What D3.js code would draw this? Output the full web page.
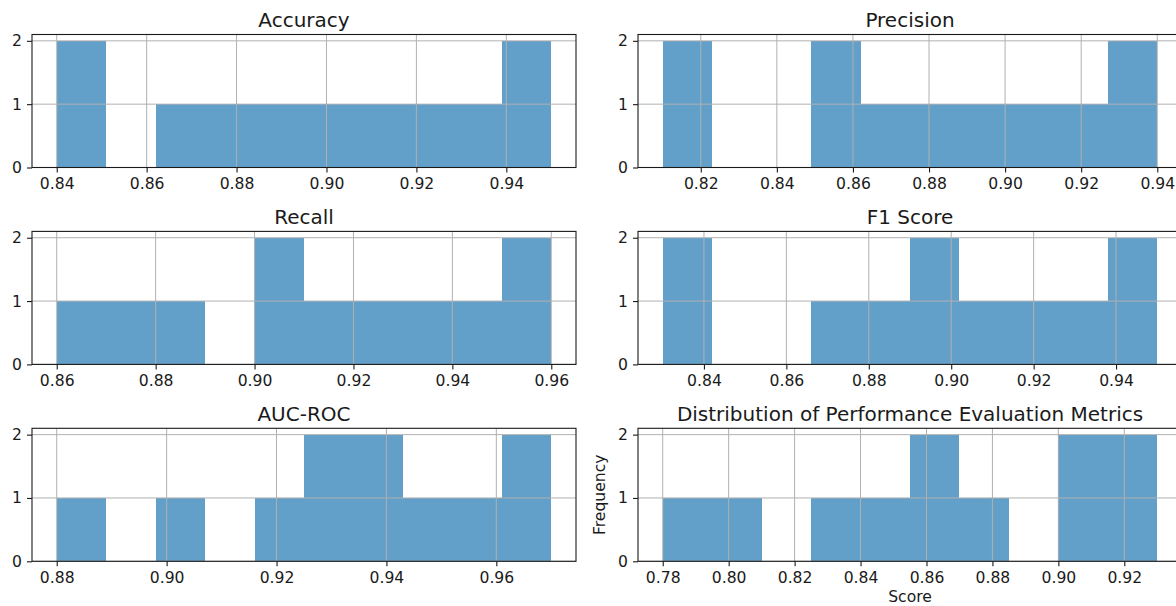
<!DOCTYPE html>
<meta charset="utf-8">
<style>
  body { margin: 0; background: #fff; }
  svg { display: block; overflow: hidden; }
  text { font-family: "DejaVu Sans", sans-serif; fill: #1a1a1a; }
  .tick text { font-size: 15.6px; }
  .tick line { stroke: #1a1a1a; stroke-width: 1.1px; }
  .grid line { stroke: #b0b0b0; stroke-width: 1px; }
  .title { font-size: 20px; text-anchor: middle; }
  .axis-label { font-size: 15.6px; text-anchor: middle; }
</style>
<body>
<script src="https://d3js.org/d3.v7.min.js"></script>
<script>

// panel titles, in subplot order (left to right, top to bottom)
var titles = ["Accuracy", "Precision", "Recall", "F1 Score", "AUC-ROC",
              "Distribution of Performance Evaluation Metrics"];

// lowest and highest score of each metric (10 equal bins in between)
var binLow  = [0.84, 0.81, 0.86, 0.83, 0.88, 0.78];
var binHigh = [0.95, 0.94, 0.96, 0.95, 0.97, 0.93];

// histogram counts, 10 bins per metric
var accuracyCounts  = [2, 0, 1, 1, 1, 1, 1, 1, 1, 2];
var precisionCounts = [2, 0, 0, 2, 1, 1, 1, 1, 1, 2];
var recallCounts    = [1, 1, 1, 0, 2, 1, 1, 1, 1, 2];
var f1Counts        = [2, 0, 0, 1, 1, 2, 1, 1, 1, 2];
var aucCounts       = [1, 0, 1, 0, 1, 2, 2, 1, 1, 2];
var lastCounts      = [1, 1, 0, 1, 1, 2, 1, 0, 2, 2];
var counts = [accuracyCounts, precisionCounts, recallCounts, f1Counts, aucCounts, lastCounts];

// x tick labels per panel
var xTicks = [
  [0.84, 0.86, 0.88, 0.90, 0.92, 0.94],
  [0.82, 0.84, 0.86, 0.88, 0.90, 0.92, 0.94],
  [0.86, 0.88, 0.90, 0.92, 0.94, 0.96],
  [0.84, 0.86, 0.88, 0.90, 0.92, 0.94],
  [0.88, 0.90, 0.92, 0.94, 0.96],
  [0.78, 0.80, 0.82, 0.84, 0.86, 0.88, 0.90, 0.92]
];
var yTicks = [0, 1, 2];

var W = 1176, H = 606;
var colLeft = [32, 638];
var rowTop = [34.5, 231.4, 428.3];
var axW = 544, axH = 133;

var svg = d3.select("body").append("svg")
  .attr("width", W)
  .attr("height", H);

titles.forEach(function(title, i) {
  var col = i % 2, row = Math.floor(i / 2);
  var lo = binLow[i], hi = binHigh[i];
  var pad = (hi - lo) * 0.05;
  var nb = counts[i].length;
  var step = (hi - lo) / nb;

  var bins = counts[i].map(function(c, k) {
    return { x0: lo + k * step, x1: lo + (k + 1) * step, n: c };
  });

  var x = d3.scaleLinear().domain([lo - pad, hi + pad]).range([0, axW]);
  var y = d3.scaleLinear().domain([0, 2.1]).range([axH, 0]);

  var g = svg.append("g")
    .attr("transform", "translate(" + colLeft[col] + "," + rowTop[row] + ")");

  g.selectAll(".bar")
    .data(bins.filter(function(b) { return b.n > 0; }))
    .enter().append("rect")
      .attr("class", "bar")
      .attr("x", function(d) { return x(d.x0); })
      .attr("width", function(d) { return x(d.x1) - x(d.x0); })
      .attr("y", function(d) { return y(d.n); })
      .attr("height", function(d) { return y(0) - y(d.n); })
      .attr("fill", "#1f77b4")
      .attr("fill-opacity", 0.7)
      .attr("shape-rendering", "crispEdges");

  // grid goes above the bars, like matplotlib's default
  var grid = g.append("g").attr("class", "grid");
  grid.selectAll(".vg")
    .data(xTicks[i])
    .enter().append("line")
      .attr("x1", function(d) { return x(d); })
      .attr("x2", function(d) { return x(d); })
      .attr("y1", 0).attr("y2", axH);
  grid.selectAll(".hg")
    .data(yTicks)
    .enter().append("line")
      .attr("x1", 0).attr("x2", axW)
      .attr("y1", function(d) { return y(d); })
      .attr("y2", function(d) { return y(d); });

  var xAxis = g.append("g")
    .attr("transform", "translate(0," + axH + ")")
    .call(d3.axisBottom(x).tickValues(xTicks[i]).tickFormat(d3.format(".2f"))
      .tickSize(5).tickPadding(5.5));
  xAxis.select(".domain").remove();

  var yAxis = g.append("g")
    .call(d3.axisLeft(y).tickValues(yTicks).tickFormat(d3.format("d"))
      .tickSize(5).tickPadding(5));
  yAxis.select(".domain").remove();

  // frame
  g.append("rect")
    .attr("width", axW).attr("height", axH)
    .attr("fill", "none")
    .attr("stroke", "#1a1a1a")
    .attr("stroke-width", 1.1);

  g.append("text")
    .attr("class", "title")
    .attr("x", axW / 2)
    .attr("y", -7.6)
    .text(title);

  if (i === titles.length - 1) {
    g.append("text")
      .attr("class", "axis-label")
      .attr("x", axW / 2)
      .attr("y", 173.5)
      .text("Score");
    g.append("text")
      .attr("class", "axis-label")
      .attr("transform", "translate(-33.4," + (axH / 2) + ") rotate(-90)")
      .text("Frequency");
  }
});

</script>
</body>
